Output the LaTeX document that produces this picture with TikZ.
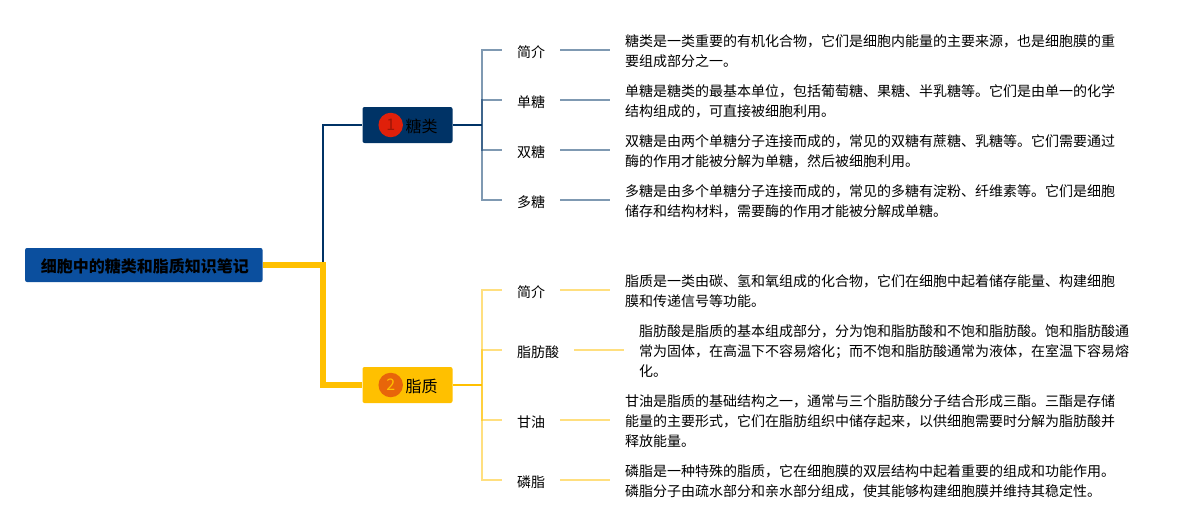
\documentclass[tikz,border=0pt]{standalone}
\usepackage{fontspec}
\setmainfont{Noto Sans CJK SC}
\definecolor{rootblue}{HTML}{0B4F9E}
\definecolor{navy}{HTML}{003366}
\definecolor{amber}{HTML}{FFC000}
\definecolor{badgered}{HTML}{E0200A}
\definecolor{badgeorange}{HTML}{E8650A}
\begin{document}
\begin{tikzpicture}[x=1pt, y=-1pt,
    every node/.style={inner sep=0pt, text=black},
    rootbox/.style={fill=rootblue, rounded corners=2pt, minimum width=237.5pt, minimum height=34pt, text height=16pt, text depth=2pt, font=\fontsize{16}{16}\selectfont\bfseries},
    branchbox/.style={rounded corners=2pt, minimum width=90pt, minimum height=36pt},
    badge/.style={circle, minimum size=24.5pt, font=\fontsize{16}{16}\selectfont},
    branchtext/.style={font=\fontsize{16}{16}\selectfont},
    leaf/.style={minimum height=20pt, text height=16pt, text depth=2pt, font=\fontsize{14}{14}\selectfont},
    note/.style={anchor=west, yshift=-1pt, align=left, inner xsep=15pt, font=\fontsize{14}{20}\selectfont},
    twigA/.style={navy, draw opacity=.5, line width=2pt},
    twigB/.style={amber, draw opacity=.5, line width=2pt}]
  \useasboundingbox (0,0) rectangle (1199,530);

  % root and main branches
  \node[rootbox] (root) at (143.8,265) {\kern2pt 细胞中的糖类和脂质知识笔记};
  \coordinate (trunk) at (323,265);
  \node[branchbox, fill=navy] (sugar) at (407.5,125) {};
  \node[branchbox, fill=amber] (lipid) at (407.5,385) {};
  \node[badge, fill=badgered, text=badgered!70!black] (sugarbadge) at (390.7,125) {1};
  \node[badge, fill=badgeorange, text=amber] (lipidbadge) at (390.7,385) {2};
  \node[branchtext] (sugartext) at (421.5,126) {糖类};
  \node[branchtext] (lipidtext) at (421.5,386) {脂质};
  \draw[navy, line width=2pt] (trunk) |- (sugar.west);
  \draw[amber, line width=6pt] (root.east) -- (trunk) |- (lipid.west);

  % sugar leaves
  \coordinate (hubA) at (482,125);
  \draw[navy, line width=2pt] (sugar.east) -- (hubA);
  \node[leaf, minimum width=58pt] (a1) at (531,50) {简介};
  \node[leaf, minimum width=58pt] (a2) at (531,100) {单糖};
  \node[leaf, minimum width=58pt] (a3) at (531,150) {双糖};
  \node[leaf, minimum width=58pt] (a4) at (531,200) {多糖};
  \node[note] (na1) at (610,50) {糖类是一类重要的有机化合物，它们是细胞内能量的主要来源，也是细胞膜的重\\要组成部分之一。};
  \node[note] (na2) at (610,100) {单糖是糖类的最基本单位，包括葡萄糖、果糖、半乳糖等。它们是由单一的化学\\结构组成的，可直接被细胞利用。};
  \node[note] (na3) at (610,150) {双糖是由两个单糖分子连接而成的，常见的双糖有蔗糖、乳糖等。它们需要通过\\酶的作用才能被分解为单糖，然后被细胞利用。};
  \node[note] (na4) at (610,200) {多糖是由多个单糖分子连接而成的，常见的多糖有淀粉、纤维素等。它们是细胞\\储存和结构材料，需要酶的作用才能被分解成单糖。};
  \foreach \n in {1,2,3,4} {
    \draw[twigA] (hubA) |- (a\n.west);
    \draw[twigA] (a\n.east) -- (a\n.east -| na\n.west);
  }

  % lipid leaves
  \coordinate (hubB) at (482,385);
  \draw[amber, line width=2pt] (lipid.east) -- (hubB);
  \node[leaf, minimum width=58pt] (b1) at (531,290) {简介};
  \node[leaf, minimum width=72pt] (b2) at (538,350) {脂肪酸};
  \node[leaf, minimum width=58pt] (b3) at (531,420) {甘油};
  \node[leaf, minimum width=58pt] (b4) at (531,480) {磷脂};
  \node[note] (nb1) at (610,290) {脂质是一类由碳、氢和氧组成的化合物，它们在细胞中起着储存能量、构建细胞\\膜和传递信号等功能。};
  \node[note] (nb2) at (624,350) {脂肪酸是脂质的基本组成部分，分为饱和脂肪酸和不饱和脂肪酸。饱和脂肪酸通\\常为固体，在高温下不容易熔化；而不饱和脂肪酸通常为液体，在室温下容易熔\\化。};
  \node[note] (nb3) at (610,420) {甘油是脂质的基础结构之一，通常与三个脂肪酸分子结合形成三酯。三酯是存储\\能量的主要形式，它们在脂肪组织中储存起来，以供细胞需要时分解为脂肪酸并\\释放能量。};
  \node[note] (nb4) at (610,480) {磷脂是一种特殊的脂质，它在细胞膜的双层结构中起着重要的组成和功能作用。\\磷脂分子由疏水部分和亲水部分组成，使其能够构建细胞膜并维持其稳定性。};
  \foreach \n in {1,2,3,4} {
    \draw[twigB] (hubB) |- (b\n.west);
    \draw[twigB] (b\n.east) -- (b\n.east -| nb\n.west);
  }
\end{tikzpicture}
\end{document}
